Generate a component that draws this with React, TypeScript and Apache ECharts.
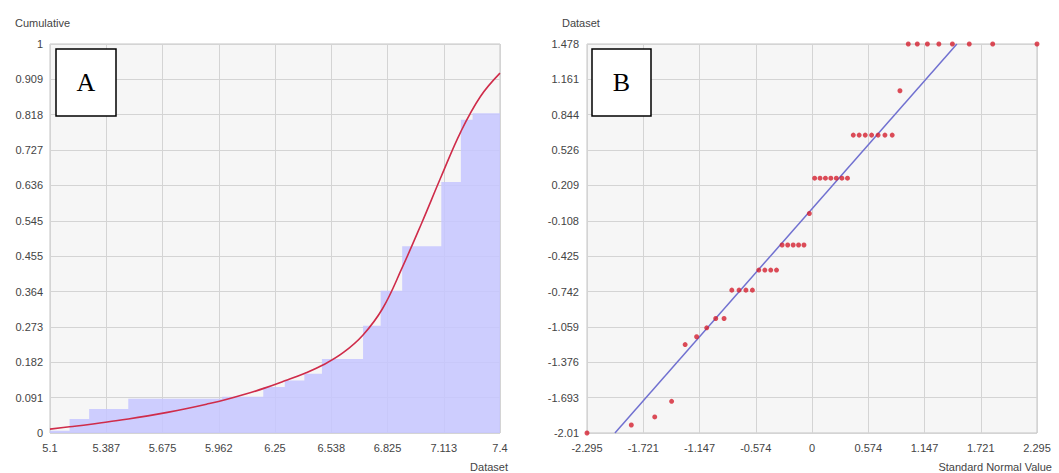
import React, { useEffect, useRef } from 'react';
import * as echarts from 'echarts';

// ---- Panel A: cumulative distribution ----
const xTicksA = ['5.1', '5.387', '5.675', '5.962', '6.25', '6.538', '6.825', '7.113', '7.4'];
const yTicksA = ['0', '0.091', '0.182', '0.273', '0.364', '0.455', '0.545', '0.636', '0.727', '0.818', '0.909', '1'];

// empirical cumulative steps (step start x, cumulative value)
const stepX = [5.1, 5.2, 5.3, 5.5, 5.98, 6.19, 6.3, 6.4, 6.49, 6.7, 6.79, 6.9, 7.1, 7.2, 7.26, 7.4];
const stepCum = [0.006, 0.036, 0.062, 0.088, 0.093, 0.118, 0.135, 0.152, 0.19, 0.276, 0.366, 0.48, 0.645, 0.805, 0.822, 0.822];

// fitted cumulative curve
const curveX = [5.1, 5.2, 5.3, 5.4, 5.5, 5.6, 5.7, 5.8, 5.9, 6.0, 6.1, 6.2, 6.3, 6.4, 6.5, 6.6, 6.7, 6.8, 6.9, 7.0, 7.1, 7.2, 7.3, 7.4];
const curveCum = [0.01, 0.016, 0.022, 0.029, 0.036, 0.044, 0.053, 0.063, 0.074, 0.086, 0.1, 0.116, 0.134, 0.153, 0.176, 0.207, 0.252, 0.32, 0.425, 0.54, 0.66, 0.775, 0.865, 0.925];

// ---- Panel B: normal probability plot ----
const xTicksB = ['-2.295', '-1.721', '-1.147', '-0.574', '0', '0.574', '1.147', '1.721', '2.295'];
const yTicksB = ['-2.01', '-1.693', '-1.376', '-1.059', '-0.742', '-0.425', '-0.108', '0.209', '0.526', '0.844', '1.161', '1.478'];

const normalScores = [
  -2.295, -1.843, -1.604, -1.432, -1.294, -1.177, -1.074, -0.982, -0.897, -0.818, -0.744, -0.674,
  -0.608, -0.543, -0.481, -0.421, -0.362, -0.305, -0.248, -0.192, -0.137, -0.082, -0.027,
  0.027, 0.082, 0.137, 0.192, 0.248, 0.305, 0.362, 0.421, 0.481, 0.543, 0.608, 0.674, 0.744,
  0.818, 0.897, 0.982, 1.074, 1.177, 1.294, 1.432, 1.604, 1.843, 2.295,
];
const datasetValues = [
  -2.01, -1.938, -1.866, -1.726, -1.217, -1.147, -1.067, -0.983, -0.983,
  -0.729, -0.729, -0.729, -0.729,
  -0.549, -0.549, -0.549, -0.549,
  -0.324, -0.324, -0.324, -0.324, -0.324,
  -0.042,
  0.275, 0.275, 0.275, 0.275, 0.275, 0.275, 0.275,
  0.661, 0.661, 0.661, 0.661, 0.661, 0.661, 0.661,
  1.059,
  1.478, 1.478, 1.478, 1.478, 1.478, 1.478, 1.478, 1.478,
];
const fitLineX = [-2.01, 1.478];
const fitLineY = [-2.01, 1.478];

// map a real value onto an axis whose ticks are evenly spaced labels
const toUnits = (ticks: string[]) => {
  const lo = parseFloat(ticks[0]);
  const hi = parseFloat(ticks[ticks.length - 1]);
  const n = ticks.length - 1;
  return (v: number) => ((v - lo) / (hi - lo)) * n;
};
const uxA = toUnits(xTicksA);
const uyA = toUnits(yTicksA);
const uxB = toUnits(xTicksB);
const uyB = toUnits(yTicksB);

const FONT = 'Liberation Sans';
const LABEL_COLOR = '#444';
const GRID_LINE = '#d4d4d4';

const mkAxis = (ticks: string[], gridIndex: number, margin: number) => ({
  type: 'value',
  gridIndex,
  min: 0,
  max: ticks.length - 1,
  interval: 1,
  axisLine: { show: false },
  axisTick: { show: false },
  splitLine: { show: true, lineStyle: { color: GRID_LINE, width: 1 } },
  axisLabel: {
    margin,
    fontFamily: FONT,
    fontSize: 11,
    color: LABEL_COLOR,
    formatter: (v: number) => ticks[Math.round(v)] ?? '',
  },
});

const textEl = (text: string, x: number, y: number, align: string = 'left') => ({
  type: 'text',
  x,
  y,
  style: { text, fontFamily: FONT, fontSize: 11, fill: LABEL_COLOR, align, verticalAlign: 'middle' },
});

const boxEl = (letter: string, x: number, y: number, w: number, h: number) => ({
  type: 'group',
  children: [
    { type: 'rect', shape: { x, y, width: w, height: h }, style: { fill: '#fff', stroke: '#000', lineWidth: 1.5 }, z: 10 },
    {
      type: 'text',
      x: x + w / 2,
      y: y + h / 2,
      z: 11,
      style: { text: letter, fontFamily: 'Liberation Serif', fontSize: 26, fill: '#000', align: 'center', verticalAlign: 'middle' },
    },
  ],
});

const option = {
  animation: false,
  backgroundColor: '#ffffff',
  grid: [
    { left: 50, top: 44, width: 450, height: 389, show: true, backgroundColor: '#f6f6f6', borderColor: '#c4c4c4', borderWidth: 1 },
    { left: 587, top: 44, width: 450, height: 389, show: true, backgroundColor: '#f6f6f6', borderColor: '#c4c4c4', borderWidth: 1 },
  ],
  xAxis: [mkAxis(xTicksA, 0, 9), mkAxis(xTicksB, 1, 9)],
  yAxis: [mkAxis(yTicksA, 0, 7), mkAxis(yTicksB, 1, 8)],
  series: [
    {
      type: 'line',
      xAxisIndex: 0,
      yAxisIndex: 0,
      step: 'end',
      symbol: 'none',
      data: stepX.map((x, i) => [uxA(x), uyA(stepCum[i])]),
      lineStyle: { width: 0, color: '#c6c6ff' },
      areaStyle: { color: '#c6c6ff', opacity: 0.85 },
      z: 2,
    },
    {
      type: 'line',
      xAxisIndex: 0,
      yAxisIndex: 0,
      smooth: 0.4,
      symbol: 'none',
      data: curveX.map((x, i) => [uxA(x), uyA(curveCum[i])]),
      lineStyle: { width: 1.6, color: '#cf2c4a' },
      z: 3,
    },
    {
      type: 'line',
      xAxisIndex: 1,
      yAxisIndex: 1,
      symbol: 'none',
      data: fitLineX.map((x, i) => [uxB(x), uyB(fitLineY[i])]),
      lineStyle: { width: 1.5, color: '#7070d0' },
      z: 3,
    },
    {
      type: 'scatter',
      xAxisIndex: 1,
      yAxisIndex: 1,
      clip: false,
      symbol: 'circle',
      symbolSize: 5,
      data: normalScores.map((x, i) => [uxB(x), uyB(datasetValues[i])]),
      itemStyle: { color: '#d42030' },
      z: 4,
    },
  ],
  graphic: [
    textEl('Cumulative', 15, 23),
    textEl('Dataset', 508, 467, 'right'),
    textEl('Dataset', 562, 23),
    textEl('Standard Normal Value', 1052, 467, 'right'),
    boxEl('A', 56, 49, 60, 67),
    boxEl('B', 592, 49, 59, 67),
  ],
};

export default function App() {
  const ref = useRef<HTMLDivElement>(null);
  useEffect(() => {
    if (!ref.current) return;
    const chart = echarts.init(ref.current, null, { renderer: 'svg' });
    chart.setOption(option as any);
    return () => chart.dispose();
  }, []);
  return <div ref={ref} style={{ position: 'absolute', left: 0, top: 0, width: 1059, height: 473 }} />;
}
